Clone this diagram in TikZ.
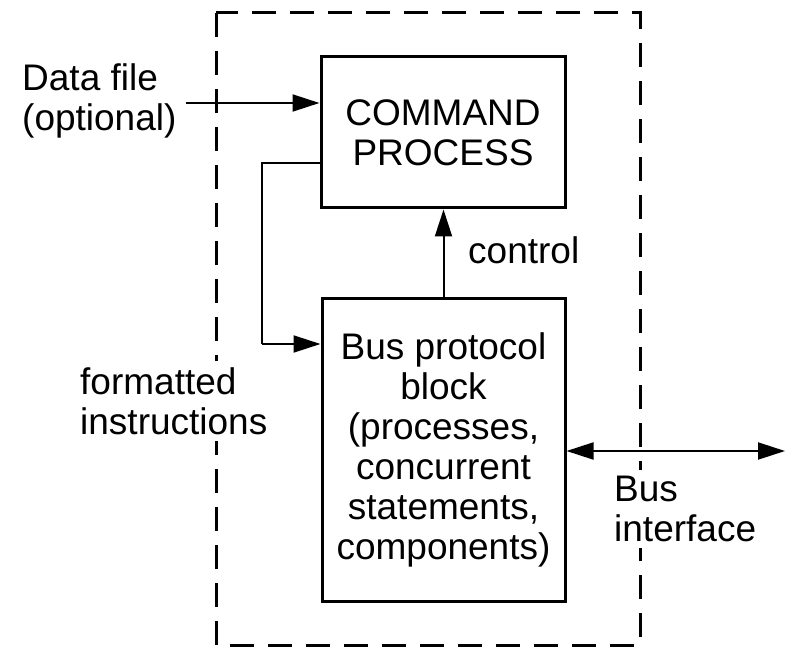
\documentclass[tikz,border=0pt]{standalone}
\usepackage{fontspec}
\setmainfont{Liberation Sans}
\usetikzlibrary{arrows.meta}
\begin{document}
\begin{tikzpicture}[x=1pt,y=-1pt,
  every node/.style={font=\fontsize{37}{40}\selectfont},
  blockbox/.style={draw,line width=3pt,align=center,inner sep=0pt},
  conn/.style={line width=2pt},
  arr/.style={conn,-{Triangle[length=27pt,width=17pt]}},
  biarr/.style={conn,{Triangle[length=27pt,width=17pt]}-{Triangle[length=27pt,width=17pt]}},
  lbl/.style={align=left,inner sep=4pt},
  masklbl/.style={lbl,fill=white,inner sep=6pt}
]
\useasboundingbox (0,0) rectangle (785,647);
% dashed boundary
\draw[line width=3pt,dash pattern=on 24pt off 14pt] (216,13) rectangle (640,645);
% blocks
\node[blockbox,minimum width=244pt,minimum height=151pt] (cmd) at (443,132.5) {COMMAND\\PROCESS};
\node[blockbox,minimum width=243pt,minimum height=302pt] (bus) at (443.5,450) {Bus protocol\\block\\(processes,\\concurrent\\statements,\\components)};
% labels
\node[lbl,anchor=west] (datalbl) at (18,101) {Data file\\(optional)};
\node[masklbl,anchor=west] (fmtlbl) at (74,401) {formatted\\instructions};
\node[masklbl,anchor=west] (buslbl) at (608,509) {Bus\\interface};
\node[lbl,anchor=west] (ctllbl) at (464,250) {control};
% coordinates
\coordinate (din) at (186,103);
\coordinate (fbA) at (321,163);
\coordinate (fbB) at (262,163);
\coordinate (fbC) at (262,344);
\coordinate (bout) at (785,451);
% connectors
\draw[arr] (din) -- (din -| cmd.west);
\draw[arr] (bus.north) -- (bus.north |- cmd.south);
\draw[conn] (fbA) -- (fbB) -- (fbC);
\draw[arr] (fbC) -- (fbC -| bus.west);
\draw[biarr] (bout -| bus.east) -- (bout);
\end{tikzpicture}
\end{document}
